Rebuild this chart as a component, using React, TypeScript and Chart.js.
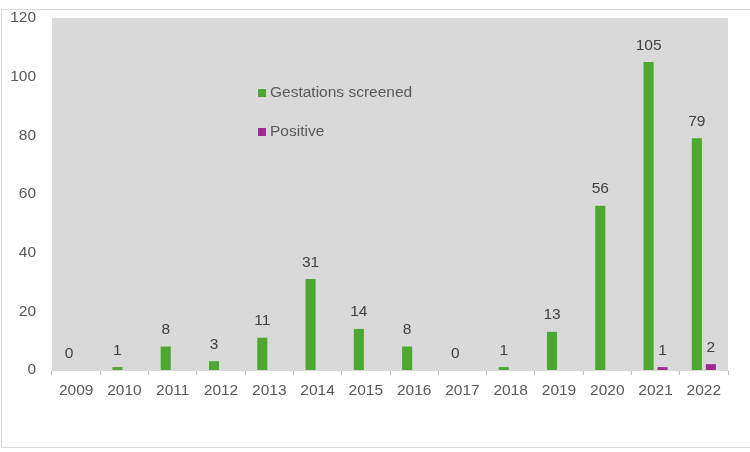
import React, { useEffect, useRef } from "react";
import { Chart, registerables } from "chart.js";

Chart.register(...registerables);

const years = ["2009","2010","2011","2012","2013","2014","2015","2016","2017","2018","2019","2020","2021","2022"];
const screened = [0, 1, 8, 3, 11, 31, 14, 8, 0, 1, 13, 56, 105, 79];
const positive = [0, 0, 0, 0, 0, 0, 0, 0, 0, 0, 0, 0, 1, 2];
const positiveLabels = [null, null, null, null, null, null, null, null, null, null, null, null, "1", "2"];
const yTicks = [0, 20, 40, 60, 80, 100, 120];

const GREEN = "#4EA72E";
const PURPLE = "#A02B93";
const FONT = "'Liberation Sans', Arial, sans-serif";

const bgPlugin = {
  id: "plotBg",
  beforeDraw(chart: any) {
    const { ctx, chartArea } = chart;
    ctx.save();
    ctx.fillStyle = "#D9D9D9";
    ctx.fillRect(chartArea.left, chartArea.top, chartArea.right - chartArea.left, chartArea.bottom - chartArea.top);
    ctx.restore();
  },
};

const labelPlugin = {
  id: "valueLabels",
  afterDatasetsDraw(chart: any) {
    const { ctx } = chart;
    ctx.save();
    ctx.font = `15.5px ${FONT}`;
    ctx.fillStyle = "#404040";
    ctx.textAlign = "center";
    ctx.textBaseline = "bottom";
    chart.data.datasets.forEach((ds: any, di: number) => {
      const meta = chart.getDatasetMeta(di);
      meta.data.forEach((bar: any, i: number) => {
        let txt: string | null;
        if (di === 0) txt = String(ds.data[i]);
        else txt = positiveLabels[i];
        if (txt == null) return;
        ctx.fillText(txt, bar.x, bar.y - 9);
      });
    });
    ctx.restore();
  },
};

const legendPlugin = {
  id: "innerLegend",
  afterDraw(chart: any) {
    const { ctx } = chart;
    ctx.save();
    ctx.font = `15.5px ${FONT}`;
    ctx.textBaseline = "middle";
    ctx.textAlign = "left";
    const items = chart.data.datasets.map((d: any) => ({ label: d.label, color: d.backgroundColor }));
    const x = 258;
    const ys = [93, 132];
    items.forEach((it: any, i: number) => {
      ctx.fillStyle = it.color;
      ctx.fillRect(x, ys[i] - 4, 8, 8);
      ctx.fillStyle = "#595959";
      ctx.fillText(it.label, x + 12, ys[i]);
    });
    ctx.restore();
  },
};

export default function App() {
  const ref = useRef<HTMLCanvasElement | null>(null);
  useEffect(() => {
    document.body.style.margin = "0";
    const chart = new Chart(ref.current as HTMLCanvasElement, {
      type: "bar",
      data: {
        labels: years,
        datasets: [
          { label: "Gestations screened", data: screened, backgroundColor: GREEN, categoryPercentage: 0.58, barPercentage: 0.72 },
          { label: "Positive", data: positive, backgroundColor: PURPLE, categoryPercentage: 0.58, barPercentage: 0.72 },
        ],
      },
      options: {
        animation: false,
        responsive: false,
        maintainAspectRatio: false,
        layout: { padding: { top: 18, right: 22, bottom: 0, left: 0 } },
        plugins: { legend: { display: false }, tooltip: { enabled: false } },
        scales: {
          x: {
            grid: { display: true, drawOnChartArea: false, drawTicks: true, tickLength: 5, color: "#BFBFBF", offset: true },
            border: { display: true, color: "#D9D9D9" },
            ticks: { color: "#595959", font: { family: FONT, size: 15.5 }, padding: 6, maxRotation: 0, autoSkip: false },
            afterFit: (s: any) => { s.height = 82; s.paddingLeft = 0; s.paddingRight = 0; },
          },
          y: {
            min: 0,
            max: 120,
            afterBuildTicks: (s: any) => { s.ticks = yTicks.map((v) => ({ value: v })); },
            grid: { display: false, drawTicks: false },
            border: { display: false },
            ticks: { color: "#595959", font: { family: FONT, size: 15.5 }, padding: 16 },
            afterFit: (s: any) => { s.width = 52; s.paddingTop = 0; s.paddingBottom = 0; },
          },
        },
      },
      plugins: [bgPlugin, labelPlugin, legendPlugin],
    });
    return () => chart.destroy();
  }, []);
  return (
    <div style={{ position: "relative", width: 750, height: 452, background: "#fff" }}>
      <div style={{ position: "absolute", left: 1, top: 9, width: 760, height: 439, border: "1px solid #D9D9D9", boxSizing: "border-box" }} />
      <canvas ref={ref} width={750} height={452} style={{ position: "absolute", left: 0, top: 0, display: "block" }} />
    </div>
  );
}
